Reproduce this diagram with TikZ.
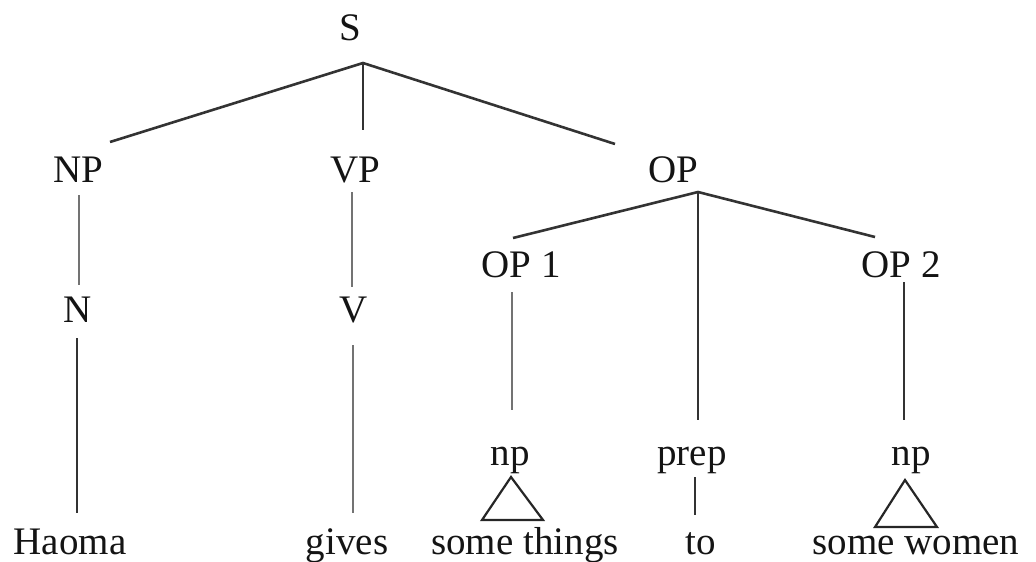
\documentclass[tikz,border=0pt]{standalone}
\usepackage{fontspec}
\setmainfont{Liberation Serif}
\begin{document}
\begin{tikzpicture}[x=1pt,y=-1pt,
  lbl/.style={anchor=base,inner sep=0pt,text=black!92,font=\fontsize{39}{46}\selectfont},
  edge/.style={line width=2.6pt,draw=black!80},
  grayedge/.style={line width=2.6pt,draw=black!55},
  tri/.style={line width=2.2pt,draw=black!85,line join=miter}]
\useasboundingbox (0,0) rectangle (1036,562);
% labels
\node[lbl] (S) at (350,40) {S};
\node[lbl] (NP) at (78,182) {NP};
\node[lbl] (VP) at (355,182) {VP};
\node[lbl] (OP) at (673,182) {OP};
\node[lbl] (OPa) at (521,277) {OP 1};
\node[lbl] (OPb) at (901,277) {OP 2};
\node[lbl] (N) at (78,322) {N};
\node[lbl] (V) at (354,322) {V};
\node[lbl] (npa) at (510,465) {np};
\node[lbl] (prep) at (692,465) {prep};
\node[lbl] (npb) at (911,465) {np};
\node[lbl] (haoma) at (70,554) {Haoma};
\node[lbl] (gives) at (347,554) {gives};
\node[lbl] (things) at (525,554) {some things};
\node[lbl] (to) at (701,554) {to};
\node[lbl] (women) at (916,554) {some women};
% connector end points
\coordinate (Sx) at (363,63);
\coordinate (NPt) at (110,142);
\coordinate (VPt) at (363,130);
\coordinate (OPt) at (615,144);
\coordinate (NPb) at (79,195);
\coordinate (Nt) at (79,285);
\coordinate (VPb) at (352,192);
\coordinate (Vt) at (352,287);
\coordinate (Nb) at (77,338);
\coordinate (haomat) at (77,513);
\coordinate (Vb) at (353,345);
\coordinate (givest) at (353,513);
\coordinate (OPx) at (698,192);
\coordinate (OPat) at (513,238);
\coordinate (OPbt) at (875,237);
\coordinate (prept) at (698,420);
\coordinate (OPab) at (512,292);
\coordinate (npat) at (512,410);
\coordinate (OPbb) at (904,282);
\coordinate (npbt) at (904,420);
\coordinate (prepb) at (695,477);
\coordinate (tot) at (695,515);
% connectors
\draw[edge] (NPt) -- (Sx) -- (OPt);
\draw[edge] (Sx) -- (VPt);
\draw[grayedge] (NPb) -- (Nt);
\draw[grayedge] (VPb) -- (Vt);
\draw[edge] (Nb) -- (haomat);
\draw[grayedge] (Vb) -- (givest);
\draw[edge] (OPat) -- (OPx) -- (OPbt);
\draw[edge] (OPx) -- (prept);
\draw[grayedge] (OPab) -- (npat);
\draw[edge] (OPbb) -- (npbt);
\draw[edge] (prepb) -- (tot);
% triangles
\draw[tri] (511,477) -- (482,520) -- (543,520) -- cycle;
\draw[tri] (905,480) -- (875,527) -- (937,527) -- cycle;
\end{tikzpicture}
\end{document}
